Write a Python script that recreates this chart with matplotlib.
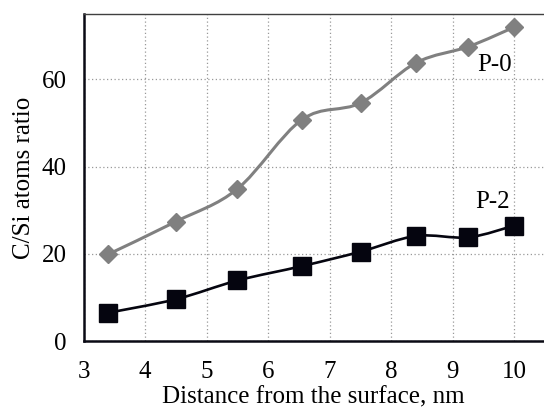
import numpy as np
import matplotlib
matplotlib.use("Agg")
import matplotlib.pyplot as plt
from matplotlib.path import Path
from matplotlib.patches import PathPatch

# Data
distance = [3.4, 4.5, 5.5, 6.55, 7.5, 8.4, 9.25, 10.0]
p0_values = [19.9, 27.4, 34.9, 50.8, 54.6, 63.8, 67.5, 72.0]
p2_values = [6.5, 9.6, 13.9, 17.2, 20.5, 24.1, 23.8, 26.5]
x_ticks = [3, 4, 5, 6, 7, 8, 9, 10]
y_ticks = [0, 20, 40, 60]

plt.rcParams['font.family'] = ['Liberation Serif', 'DejaVu Serif']

fig = plt.figure(figsize=(5.44, 4.11), dpi=100)
ax = fig.add_axes([0.1535, 0.170, 0.8465, 0.796])


def smooth_path(xs, ys):
    pts = np.column_stack([xs, ys]).astype(float)
    n = len(pts)
    verts = [pts[0]]
    codes = [Path.MOVETO]
    for i in range(n - 1):
        p0 = pts[i - 1] if i > 0 else pts[i]
        p1 = pts[i]
        p2 = pts[i + 1]
        p3 = pts[i + 2] if i + 2 < n else pts[i + 1]
        c1 = p1 + (p2 - p0) / 6.0
        c2 = p2 - (p3 - p1) / 6.0
        verts += [c1, c2, p2]
        codes += [Path.CURVE4] * 3
    return Path(verts, codes)


gray = '#808080'
dark = '#05050f'

ax.add_patch(PathPatch(smooth_path(distance, p0_values), fill=False,
                       edgecolor=gray, lw=2.2, zorder=3))
ax.plot(distance, p0_values, linestyle='none', marker='D', ms=9.5,
        color=gray, zorder=4)
ax.add_patch(PathPatch(smooth_path(distance, p2_values), fill=False,
                       edgecolor=dark, lw=1.9, zorder=3))
ax.plot(distance, p2_values, linestyle='none', marker='s', ms=12.5,
        color=dark, zorder=4)

ax.text(9.67, 63.4, 'P-0', fontsize=18, ha='center', va='center', zorder=5)
ax.text(9.65, 32.0, 'P-2', fontsize=18, ha='center', va='center', zorder=5)

ax.set_xlim(3, 10.48)
ax.set_ylim(0, 75)
ax.set_xticks(x_ticks)
ax.set_yticks(y_ticks)
ax.tick_params(axis='x', length=0, labelsize=18, pad=14)
ax.tick_params(axis='y', length=0, labelsize=18, pad=12)
ax.grid(True, linestyle=(0, (1, 2)), color='#999999', lw=0.9)
ax.set_axisbelow(True)

for s in ['left', 'bottom']:
    ax.spines[s].set_linewidth(1.8)
    ax.spines[s].set_color('#0a0a14')
ax.spines['top'].set_linewidth(1.0)
ax.spines['top'].set_color('#404040')
ax.spines['right'].set_visible(False)

ax.set_xlabel('Distance from the surface, nm', fontsize=18, labelpad=3)
ax.set_ylabel('C/Si atoms ratio', fontsize=18, labelpad=5)

fig.savefig('out.png', dpi=100)
